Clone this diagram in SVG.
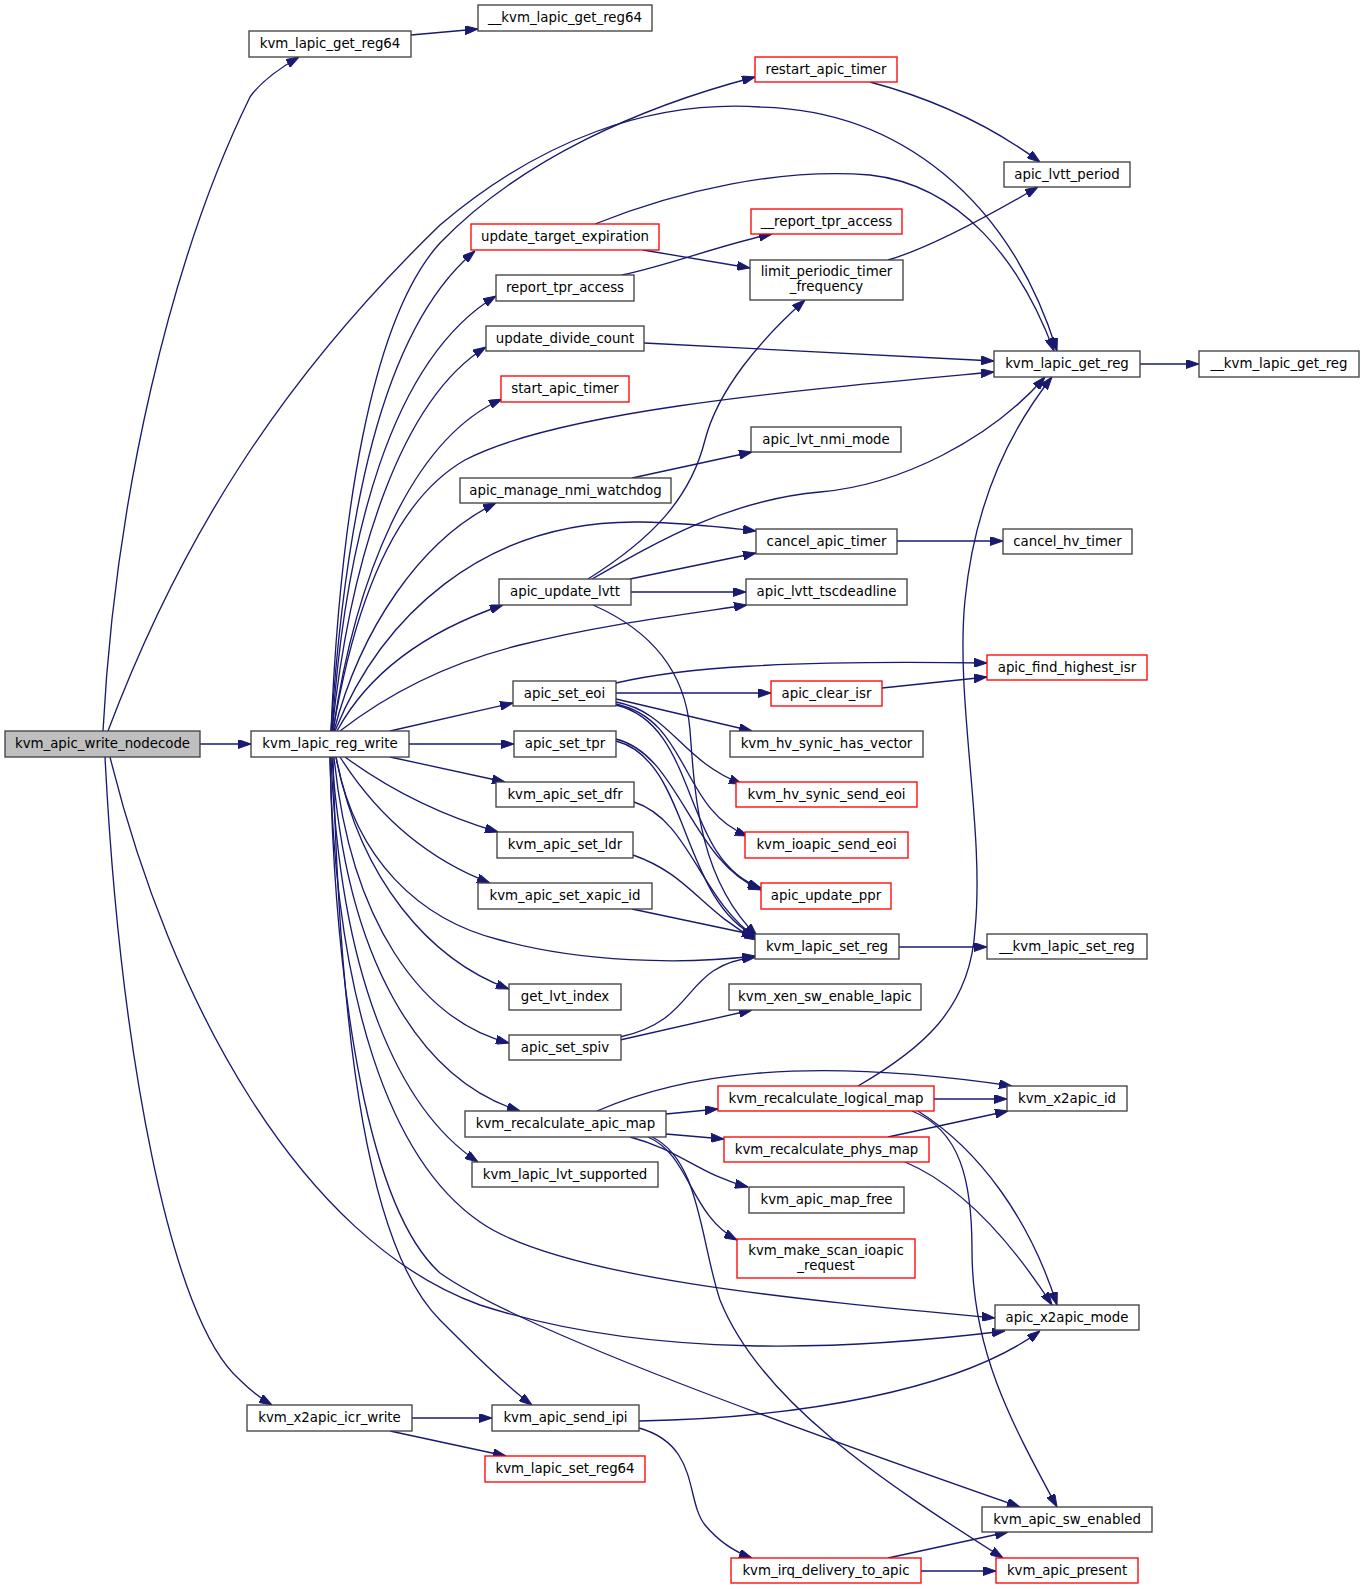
<svg xmlns="http://www.w3.org/2000/svg" width="1364" height="1589" viewBox="0 0 1364 1589">
<style>
.n rect{fill:#fff;stroke:#404040;stroke-width:1.33}
.n.r rect{stroke:#ff0000}
.n.root rect{fill:#bfbfbf}
.n text{font-family:"DejaVu Sans","Liberation Sans",sans-serif;font-size:13.33px;text-anchor:middle;fill:#000}
#edges path{fill:none;stroke:#191970;stroke-width:1.33;marker-end:url(#a)}
</style>
<defs>
<marker id="a" viewBox="0 0 13 9" refX="13" refY="4.5" markerWidth="13" markerHeight="9" markerUnits="userSpaceOnUse" orient="auto">
<path d="M0,0 L13,4.5 L0,9 z" fill="#191970" stroke="#191970" stroke-width="1"/>
</marker>
</defs>
<rect width="1364" height="1589" fill="#fff"/>
<g id="edges">
<path d="M200,744 L251,744"/>
<path d="M103,731 C 115,500 170,260 250,97 C 262,80 280,68 299,57"/>
<path d="M108,731 C 180,540 280,380 440,225 C 540,140 650,100 760,107 C 900,110 1010,200 1057,351"/>
<path d="M110,757 C 170,1000 300,1240 480,1305 C 650,1360 850,1350 1005,1331"/>
<path d="M105,757 C 120,1050 170,1320 240,1380 C 250,1390 260,1398 272,1405"/>
<path d="M411,35 L478,29"/>
<path d="M331,731 C 340,520 370,320 440,243 C 520,160 640,107 755,77"/>
<path d="M331,731 C 345,520 380,330 475,251"/>
<path d="M332,731 C 345,540 390,360 496,296"/>
<path d="M332,731 C 350,560 400,400 486,347"/>
<path d="M333,731 C 355,600 395,500 465,460 C 560,410 800,390 994,372"/>
<path d="M333,731 C 355,580 410,440 502,399"/>
<path d="M334,731 C 360,630 420,540 496,503"/>
<path d="M335,731 C 380,620 480,520 640,522 C 690,523 720,527 756,531"/>
<path d="M337,731 C 370,670 430,630 503,605"/>
<path d="M340,731 C 380,700 440,665 520,645 C 600,625 680,615 747,605"/>
<path d="M390,731 L513,703"/>
<path d="M409,744 L514,744"/>
<path d="M390,757 L505,782"/>
<path d="M345,757 C 390,790 440,815 498,832"/>
<path d="M340,757 C 380,820 430,860 490,883"/>
<path d="M336,757 C 355,860 420,920 500,940 C 580,962 680,965 755,956"/>
<path d="M336,757 C 360,880 430,960 509,989"/>
<path d="M334,757 C 350,920 420,1020 509,1043"/>
<path d="M332,757 C 345,960 420,1080 520,1111"/>
<path d="M331,757 C 340,980 400,1110 478,1162"/>
<path d="M330,757 C 335,1000 390,1160 480,1222 C 560,1278 800,1300 995,1318"/>
<path d="M333,757 C 340,1050 370,1250 440,1320 C 470,1350 505,1385 532,1405"/>
<path d="M330,757 C 335,1000 370,1210 440,1273 C 520,1330 800,1430 1020,1507"/>
<path d="M870,82 C 930,98 990,125 1040,162"/>
<path d="M888,260 C 930,248 990,215 1038,187"/>
<path d="M643,250 L750,268"/>
<path d="M595,224 C 680,190 780,168 870,175 C 960,185 1020,260 1054,351"/>
<path d="M622,275 C 670,265 720,245 772,234"/>
<path d="M644,343 L994,361"/>
<path d="M1140,364 L1199,364"/>
<path d="M632,478 L752,452"/>
<path d="M588,579 C 650,540 690,500 705,440 C 718,390 760,340 805,300"/>
<path d="M592,579 C 660,540 730,500 820,492 C 900,485 990,440 1045,377"/>
<path d="M630,579 L756,553"/>
<path d="M631,592 L746,592"/>
<path d="M593,605 C 650,630 685,670 690,730 C 695,800 700,880 757,936"/>
<path d="M897,541 L1003,541"/>
<path d="M616,683 C 680,668 780,660 987,663"/>
<path d="M616,693 L771,693"/>
<path d="M882,688 L987,677"/>
<path d="M616,699 L752,731"/>
<path d="M616,702 C 670,712 680,760 742,784"/>
<path d="M616,704 C 690,720 680,810 748,836"/>
<path d="M616,705 C 700,725 680,860 761,888"/>
<path d="M616,739 C 680,755 690,860 761,890"/>
<path d="M616,741 C 690,760 680,900 757,937"/>
<path d="M634,802 C 690,820 700,900 757,938"/>
<path d="M633,855 C 690,875 700,910 757,940"/>
<path d="M632,909 L755,935"/>
<path d="M620,1037 C 700,1020 680,965 756,957"/>
<path d="M620,1040 L752,1010"/>
<path d="M899,947 L987,947"/>
<path d="M597,1111 C 680,1075 800,1055 1012,1086"/>
<path d="M666,1114 L718,1109"/>
<path d="M666,1134 L724,1139"/>
<path d="M630,1137 C 680,1150 700,1175 748,1187"/>
<path d="M648,1137 C 690,1155 690,1215 737,1240"/>
<path d="M652,1137 C 700,1160 700,1240 720,1300 C 760,1400 880,1480 1003,1558"/>
<path d="M934,1099 L1007,1099"/>
<path d="M858,1086 C 920,1050 970,1010 975,930 C 985,830 955,700 965,600 C 975,500 1010,430 1052,377"/>
<path d="M918,1111 C 980,1150 1030,1220 1057,1305"/>
<path d="M912,1111 C 960,1130 972,1180 972,1250 C 972,1350 1010,1420 1057,1507"/>
<path d="M888,1137 L1008,1111"/>
<path d="M905,1162 C 960,1185 1010,1240 1052,1305"/>
<path d="M639,1421 C 800,1418 960,1390 1040,1331"/>
<path d="M639,1428 C 700,1445 685,1500 705,1525 C 720,1543 735,1552 752,1558"/>
<path d="M412,1418 L492,1418"/>
<path d="M390,1431 L506,1456"/>
<path d="M888,1558 L1008,1532"/>
<path d="M921,1571 L996,1571"/>
</g>
<g id="n1" class="n root"><rect x="5" y="731" width="195" height="26"/><text x="102.5" y="748">kvm_apic_write_nodecode</text></g>
<g id="n2" class="n"><rect x="249" y="31" width="162" height="26"/><text x="330" y="48">kvm_lapic_get_reg64</text></g>
<g id="n3" class="n"><rect x="478" y="5" width="174" height="26"/><text x="565" y="22">__kvm_lapic_get_reg64</text></g>
<g id="n4" class="n"><rect x="251" y="731" width="158" height="26"/><text x="330" y="748">kvm_lapic_reg_write</text></g>
<g id="n5" class="n r"><rect x="755" y="57" width="142" height="25"/><text x="826" y="74">restart_apic_timer</text></g>
<g id="n6" class="n"><rect x="1004" y="162" width="126" height="25"/><text x="1067" y="179">apic_lvtt_period</text></g>
<g id="n7" class="n r"><rect x="751" y="209" width="151" height="25"/><text x="826.5" y="226">__report_tpr_access</text></g>
<g id="n8" class="n r"><rect x="471" y="224" width="188" height="26"/><text x="565" y="241">update_target_expiration</text></g>
<g id="n9" class="n"><rect x="750" y="260" width="153" height="40"/><text x="826.5" y="276">limit_periodic_timer</text><text x="826.5" y="291">_frequency</text></g>
<g id="n10" class="n"><rect x="496" y="275" width="138" height="26"/><text x="565" y="292">report_tpr_access</text></g>
<g id="n11" class="n"><rect x="486" y="326" width="158" height="25"/><text x="565" y="343">update_divide_count</text></g>
<g id="n12" class="n"><rect x="994" y="351" width="146" height="26"/><text x="1067" y="368">kvm_lapic_get_reg</text></g>
<g id="n13" class="n"><rect x="1199" y="351" width="160" height="26"/><text x="1279" y="368">__kvm_lapic_get_reg</text></g>
<g id="n14" class="n r"><rect x="501" y="376" width="128" height="26"/><text x="565" y="393">start_apic_timer</text></g>
<g id="n15" class="n"><rect x="751" y="427" width="150" height="25"/><text x="826" y="444">apic_lvt_nmi_mode</text></g>
<g id="n16" class="n"><rect x="460" y="478" width="211" height="25"/><text x="565.5" y="495">apic_manage_nmi_watchdog</text></g>
<g id="n17" class="n"><rect x="756" y="529" width="141" height="25"/><text x="826.5" y="546">cancel_apic_timer</text></g>
<g id="n18" class="n"><rect x="1003" y="529" width="129" height="25"/><text x="1067.5" y="546">cancel_hv_timer</text></g>
<g id="n19" class="n"><rect x="499" y="579" width="132" height="26"/><text x="565" y="596">apic_update_lvtt</text></g>
<g id="n20" class="n"><rect x="746" y="579" width="161" height="26"/><text x="826.5" y="596">apic_lvtt_tscdeadline</text></g>
<g id="n21" class="n r"><rect x="987" y="655" width="160" height="25"/><text x="1067" y="672">apic_find_highest_isr</text></g>
<g id="n22" class="n"><rect x="513" y="681" width="103" height="25"/><text x="564.5" y="698">apic_set_eoi</text></g>
<g id="n23" class="n r"><rect x="771" y="681" width="111" height="25"/><text x="826.5" y="698">apic_clear_isr</text></g>
<g id="n24" class="n"><rect x="514" y="731" width="102" height="26"/><text x="565" y="748">apic_set_tpr</text></g>
<g id="n25" class="n"><rect x="730" y="731" width="193" height="26"/><text x="826.5" y="748">kvm_hv_synic_has_vector</text></g>
<g id="n26" class="n"><rect x="496" y="782" width="138" height="25"/><text x="565" y="799">kvm_apic_set_dfr</text></g>
<g id="n27" class="n r"><rect x="736" y="782" width="181" height="25"/><text x="826.5" y="799">kvm_hv_synic_send_eoi</text></g>
<g id="n28" class="n"><rect x="497" y="832" width="136" height="26"/><text x="565" y="849">kvm_apic_set_ldr</text></g>
<g id="n29" class="n r"><rect x="745" y="832" width="163" height="26"/><text x="826.5" y="849">kvm_ioapic_send_eoi</text></g>
<g id="n30" class="n"><rect x="478" y="883" width="174" height="26"/><text x="565" y="900">kvm_apic_set_xapic_id</text></g>
<g id="n31" class="n r"><rect x="761" y="883" width="130" height="26"/><text x="826" y="900">apic_update_ppr</text></g>
<g id="n32" class="n"><rect x="755" y="934" width="144" height="25"/><text x="827" y="951">kvm_lapic_set_reg</text></g>
<g id="n33" class="n"><rect x="987" y="934" width="160" height="25"/><text x="1067" y="951">__kvm_lapic_set_reg</text></g>
<g id="n34" class="n"><rect x="509" y="984" width="112" height="26"/><text x="565" y="1001">get_lvt_index</text></g>
<g id="n35" class="n"><rect x="729" y="984" width="192" height="26"/><text x="825" y="1001">kvm_xen_sw_enable_lapic</text></g>
<g id="n36" class="n"><rect x="509" y="1035" width="112" height="25"/><text x="565" y="1052">apic_set_spiv</text></g>
<g id="n37" class="n r"><rect x="718" y="1086" width="216" height="25"/><text x="826" y="1103">kvm_recalculate_logical_map</text></g>
<g id="n38" class="n"><rect x="1007" y="1086" width="120" height="25"/><text x="1067" y="1103">kvm_x2apic_id</text></g>
<g id="n39" class="n"><rect x="465" y="1111" width="201" height="26"/><text x="565.5" y="1128">kvm_recalculate_apic_map</text></g>
<g id="n40" class="n r"><rect x="724" y="1137" width="205" height="25"/><text x="826.5" y="1154">kvm_recalculate_phys_map</text></g>
<g id="n41" class="n"><rect x="472" y="1162" width="186" height="25"/><text x="565" y="1179">kvm_lapic_lvt_supported</text></g>
<g id="n42" class="n"><rect x="749" y="1187" width="155" height="26"/><text x="826.5" y="1204">kvm_apic_map_free</text></g>
<g id="n43" class="n r"><rect x="737" y="1239" width="178" height="39"/><text x="826" y="1255">kvm_make_scan_ioapic</text><text x="826" y="1270">_request</text></g>
<g id="n44" class="n"><rect x="995" y="1305" width="144" height="25"/><text x="1067" y="1322">apic_x2apic_mode</text></g>
<g id="n45" class="n"><rect x="247" y="1405" width="165" height="26"/><text x="329.5" y="1422">kvm_x2apic_icr_write</text></g>
<g id="n46" class="n"><rect x="492" y="1405" width="147" height="26"/><text x="565.5" y="1422">kvm_apic_send_ipi</text></g>
<g id="n47" class="n r"><rect x="485" y="1456" width="160" height="26"/><text x="565" y="1473">kvm_lapic_set_reg64</text></g>
<g id="n48" class="n"><rect x="982" y="1507" width="170" height="25"/><text x="1067" y="1524">kvm_apic_sw_enabled</text></g>
<g id="n49" class="n r"><rect x="731" y="1558" width="190" height="25"/><text x="826" y="1575">kvm_irq_delivery_to_apic</text></g>
<g id="n50" class="n r"><rect x="996" y="1558" width="142" height="25"/><text x="1067" y="1575">kvm_apic_present</text></g>
</svg>
